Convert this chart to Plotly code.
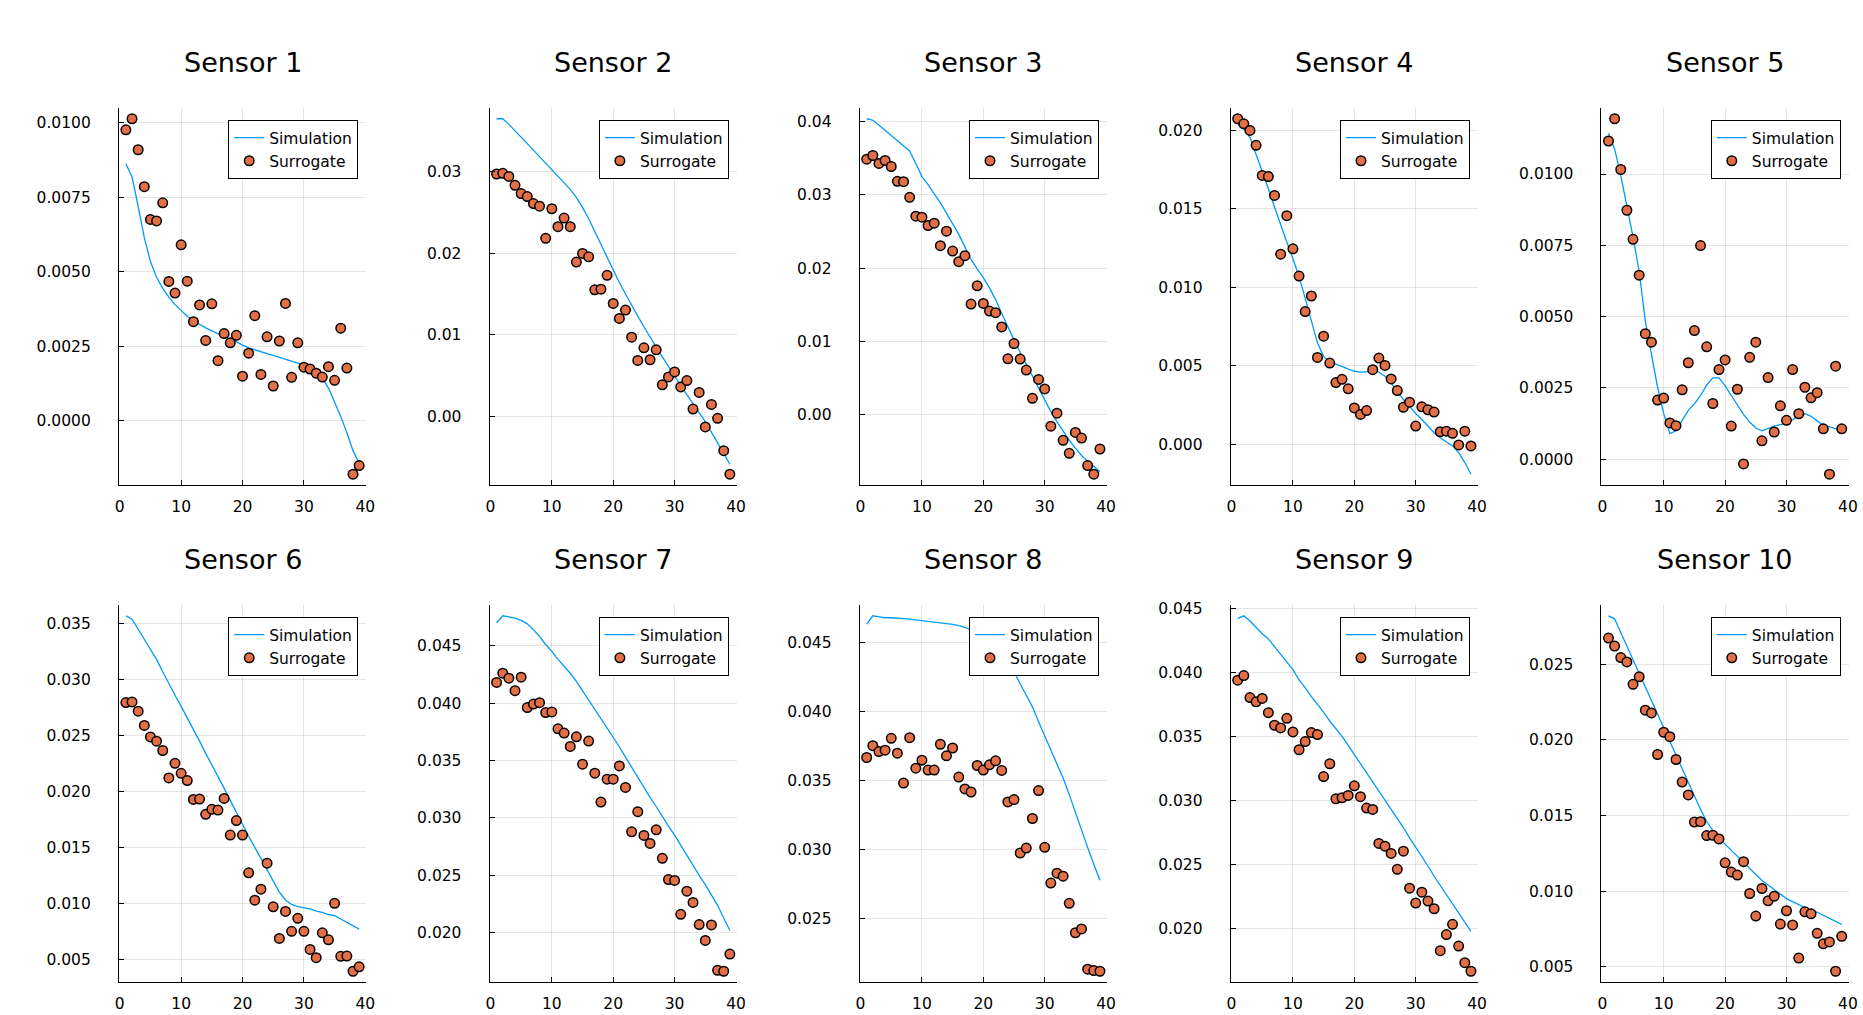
import plotly.graph_objects as go

# ---------------- data ----------------
x_steps = list(range(1, 40))
sensor_names = [f"Sensor {i}" for i in range(1, 11)]

sim_1 = [0.00863, 0.00819, 0.00720, 0.00615, 0.00535, 0.00482, 0.00445, 0.00415, 0.00390, 0.00369,
         0.00351, 0.00336, 0.00323, 0.00312, 0.00302, 0.00292, 0.00283, 0.00274, 0.00266, 0.00254,
         0.00245, 0.00238, 0.00232, 0.00226, 0.00220, 0.00214, 0.00208, 0.00201, 0.00194, 0.00186,
         0.00176, 0.00163, 0.00143, 0.00110, 0.00065, 0.00015, -0.00040, -0.00100, -0.00142]
sur_1 = [0.00977, 0.01014, 0.00910, 0.00786, 0.00676, 0.00671, 0.00732, 0.00468, 0.00429, 0.00591,
         0.00469, 0.00333, 0.00389, 0.00270, 0.00393, 0.00202, 0.00293, 0.00262, 0.00287, 0.00150,
         0.00227, 0.00353, 0.00156, 0.00282, 0.00117, 0.00268, 0.00394, 0.00146, 0.00262, 0.00180,
         0.00174, 0.00160, 0.00147, 0.00182, 0.00136, 0.00311, 0.00177, -0.00179, -0.00150]

sim_2 = [0.03644, 0.03644, 0.03575, 0.0350, 0.0342, 0.0334, 0.0326, 0.0318, 0.0310, 0.0303,
         0.0295, 0.0287, 0.0278, 0.0268, 0.0256, 0.0242, 0.0226, 0.0210, 0.0194, 0.0179,
         0.0164, 0.0150, 0.0136, 0.0123, 0.0110, 0.0097, 0.0085, 0.0073, 0.0061, 0.0049,
         0.0038, 0.0027, 0.0016, 0.0005, -0.0006, -0.0019, -0.0032, -0.0045, -0.0058]
sur_2 = [0.02968, 0.02976, 0.02939, 0.02830, 0.02729, 0.02692, 0.02607, 0.02575, 0.02182, 0.02543,
         0.02324, 0.02429, 0.02324, 0.01891, 0.01996, 0.01955, 0.01551, 0.01559, 0.01729, 0.01385,
         0.01202, 0.01304, 0.00972, 0.00688, 0.00842, 0.00696, 0.00818, 0.00389, 0.00486, 0.00547,
         0.00364, 0.00441, 0.00093, 0.00296, -0.00126, 0.00150, -0.00020, -0.00417, -0.00704]

sim_3 = [0.0404, 0.0402, 0.0395, 0.0388, 0.0381, 0.0375, 0.0368, 0.0360, 0.0343, 0.0325,
         0.0314, 0.0302, 0.0289, 0.0275, 0.0261, 0.0246, 0.0229, 0.0212, 0.0199, 0.0187,
         0.0173, 0.0157, 0.0138, 0.0119, 0.0102, 0.0085, 0.0069, 0.0053, 0.0036, 0.0019,
         0.0004, -0.0010, -0.0023, -0.0035, -0.0046, -0.0056, -0.0064, -0.0071, -0.0078]
sur_3 = [0.03488, 0.03538, 0.03429, 0.03470, 0.03388, 0.03185, 0.03180, 0.02967, 0.02709, 0.02695,
         0.02582, 0.02614, 0.02306, 0.02505, 0.02233, 0.02088, 0.02170, 0.01508, 0.01758, 0.01518,
         0.01413, 0.01391, 0.01196, 0.00761, 0.00969, 0.00757, 0.00607, 0.00222, 0.00480, 0.00349,
         -0.00159, 0.00018, -0.00353, -0.00530, -0.00245, -0.00322, -0.00698, -0.00815, -0.00471]

sim_4 = [0.02038, 0.02006, 0.01954, 0.01848, 0.01742, 0.01626, 0.01510, 0.01394, 0.01288, 0.01183,
         0.01067, 0.00929, 0.00781, 0.00644, 0.00560, 0.00522, 0.00511, 0.00496, 0.00481, 0.00465,
         0.00460, 0.00462, 0.00473, 0.00460, 0.00433, 0.00390, 0.00338, 0.00285, 0.00243, 0.00196,
         0.00158, 0.00116, 0.00074, 0.00042, 0.00017, -0.00010, -0.00053, -0.00116, -0.00190]
sur_4 = [0.02072, 0.02040, 0.01998, 0.01903, 0.01711, 0.01704, 0.01584, 0.01210, 0.01455, 0.01244,
         0.01071, 0.00845, 0.00944, 0.00553, 0.00688, 0.00517, 0.00393, 0.00414, 0.00353, 0.00232,
         0.00190, 0.00215, 0.00475, 0.00549, 0.00502, 0.00416, 0.00342, 0.00236, 0.00268, 0.00116,
         0.00239, 0.00220, 0.00205, 0.00080, 0.00084, 0.00070, -0.00004, 0.00084, -0.00010]

sim_5 = [0.01143, 0.01088, 0.00995, 0.00891, 0.00780, 0.00659, 0.00484, 0.00368, 0.00252, 0.00159,
         0.00089, 0.00099, 0.00136, 0.00171, 0.00194, 0.00223, 0.00260, 0.00285, 0.00285, 0.00258,
         0.00223, 0.00188, 0.00157, 0.00130, 0.00109, 0.00099, 0.00107, 0.00116, 0.00121, 0.00124,
         0.00138, 0.00153, 0.00159, 0.00150, 0.00134, 0.00119, 0.00113, 0.00107, 0.00101]
sur_5 = [0.01116, 0.01194, 0.01016, 0.00873, 0.00771, 0.00645, 0.00440, 0.00410, 0.00207, 0.00214,
         0.00127, 0.00117, 0.00243, 0.00338, 0.00451, 0.00749, 0.00394, 0.00195, 0.00314, 0.00348,
         0.00116, 0.00245, -0.00017, 0.00357, 0.00410, 0.00064, 0.00286, 0.00095, 0.00187, 0.00136,
         0.00314, 0.00159, 0.00252, 0.00215, 0.00233, 0.00106, -0.00053, 0.00326, 0.00106]

sim_6 = [0.0357, 0.0354, 0.0345, 0.0336, 0.0327, 0.0318, 0.0307, 0.0296, 0.0286, 0.0276,
         0.0266, 0.0256, 0.0245, 0.0234, 0.0224, 0.0214, 0.0203, 0.0192, 0.0181, 0.0170,
         0.0160, 0.0150, 0.0140, 0.0130, 0.0120, 0.0110, 0.0103, 0.0099, 0.0097, 0.0096,
         0.0095, 0.0093, 0.0092, 0.0090, 0.0089, 0.0086, 0.0083, 0.0080, 0.0077]
sur_6 = [0.02794, 0.02800, 0.02717, 0.02590, 0.02487, 0.02449, 0.02366, 0.02121, 0.02251, 0.02162,
         0.02097, 0.01929, 0.01932, 0.01796, 0.01840, 0.01834, 0.01938, 0.01610, 0.01740, 0.01610,
         0.01273, 0.01028, 0.01126, 0.01359, 0.00969, 0.00686, 0.00928, 0.00750, 0.00866, 0.00750,
         0.00588, 0.00514, 0.00736, 0.00674, 0.01000, 0.00526, 0.00529, 0.00393, 0.00432]

sim_7 = [0.0470, 0.0476, 0.0475, 0.0474, 0.0472, 0.0469, 0.0464, 0.0458, 0.0451, 0.0445,
         0.0438, 0.0432, 0.0426, 0.0419, 0.0411, 0.0403, 0.0395, 0.0387, 0.0379, 0.0370,
         0.0362, 0.0353, 0.0344, 0.0335, 0.0327, 0.0318, 0.0310, 0.0301, 0.0293, 0.0285,
         0.0276, 0.0267, 0.0258, 0.0250, 0.0242, 0.0233, 0.0224, 0.0213, 0.0202]
sur_7 = [0.04180, 0.04261, 0.04217, 0.04108, 0.04226, 0.03961, 0.03992, 0.04004, 0.03918, 0.03923,
         0.03776, 0.03739, 0.03623, 0.03707, 0.03468, 0.03670, 0.03390, 0.03139, 0.03338, 0.03338,
         0.03453, 0.03266, 0.02880, 0.03055, 0.02848, 0.02779, 0.02897, 0.02649, 0.02464, 0.02456,
         0.02161, 0.02363, 0.02265, 0.02072, 0.01934, 0.02069, 0.01674, 0.01666, 0.01815]

sim_8 = [0.04634, 0.04694, 0.04687, 0.04680, 0.04680, 0.04678, 0.04674, 0.04670, 0.04665, 0.04660,
         0.04655, 0.04650, 0.04645, 0.04640, 0.04632, 0.04622, 0.04610, 0.04592, 0.04565, 0.04530,
         0.04520, 0.04500, 0.04450, 0.04370, 0.04290, 0.04202, 0.04118, 0.04034, 0.03926, 0.03830,
         0.03722, 0.03619, 0.03518, 0.03398, 0.03266, 0.03134, 0.03014, 0.02894, 0.02778]
sur_8 = [0.03667, 0.03753, 0.03710, 0.03720, 0.03806, 0.03698, 0.03482, 0.03811, 0.03590, 0.03648,
         0.03576, 0.03576, 0.03763, 0.03679, 0.03736, 0.03525, 0.03439, 0.03417, 0.03609, 0.03576,
         0.03614, 0.03643, 0.03573, 0.03345, 0.03362, 0.02975, 0.03011, 0.03225, 0.03427, 0.03016,
         0.02757, 0.02829, 0.02807, 0.02610, 0.02397, 0.02425, 0.02133, 0.02123, 0.02118]

sim_9 = [0.0442, 0.0444, 0.0440, 0.0435, 0.0430, 0.0426, 0.0420, 0.0414, 0.0408, 0.0402,
         0.0394, 0.0388, 0.0381, 0.0375, 0.0369, 0.0362, 0.0356, 0.0350, 0.0343, 0.0336,
         0.0329, 0.0322, 0.0315, 0.0308, 0.0301, 0.0294, 0.0286, 0.0279, 0.0271, 0.0264,
         0.0256, 0.0249, 0.0241, 0.0234, 0.0226, 0.0219, 0.0212, 0.0205, 0.0198]
sur_9 = [0.03938, 0.03974, 0.03803, 0.03770, 0.03796, 0.03685, 0.03587, 0.03566, 0.03641, 0.03535,
         0.03396, 0.03460, 0.03530, 0.03514, 0.03187, 0.03287, 0.03014, 0.03022, 0.03040, 0.03115,
         0.03030, 0.02942, 0.02931, 0.02666, 0.02645, 0.02588, 0.02464, 0.02606, 0.02317, 0.02201,
         0.02286, 0.02217, 0.02157, 0.01830, 0.01956, 0.02036, 0.01866, 0.01737, 0.01670]

sim_10 = [0.0282, 0.0280, 0.0271, 0.0262, 0.0253, 0.0244, 0.0235, 0.0226, 0.0217, 0.0208,
          0.0199, 0.0190, 0.0181, 0.0171, 0.0162, 0.0154, 0.0146, 0.0140, 0.0135, 0.0131,
          0.0127, 0.0123, 0.0119, 0.0115, 0.0111, 0.0107, 0.0104, 0.0101, 0.0098, 0.0095,
          0.0093, 0.0091, 0.0089, 0.0087, 0.0086, 0.0084, 0.0082, 0.0080, 0.0078]
sur_10 = [0.02673, 0.02620, 0.02544, 0.02515, 0.02367, 0.02417, 0.02196, 0.02178, 0.01903, 0.02050,
          0.02021, 0.01870, 0.01721, 0.01636, 0.01456, 0.01459, 0.01367, 0.01369, 0.01345, 0.01187,
          0.01126, 0.01106, 0.01194, 0.00984, 0.00835, 0.01017, 0.00936, 0.00966, 0.00782, 0.00870,
          0.00776, 0.00557, 0.00863, 0.00850, 0.00721, 0.00651, 0.00664, 0.00470, 0.00701]

simulation = [sim_1, sim_2, sim_3, sim_4, sim_5, sim_6, sim_7, sim_8, sim_9, sim_10]
surrogate = [sur_1, sur_2, sur_3, sur_4, sur_5, sur_6, sur_7, sur_8, sur_9, sur_10]

# y tick spacing / format per sensor
y_dtick = [0.0025, 0.01, 0.01, 0.005, 0.0025, 0.005, 0.005, 0.005, 0.005, 0.005]
y_tickformat = [".4f", ".2f", ".2f", ".3f", ".4f", ".3f", ".3f", ".3f", ".3f", ".3f"]
x_tickvals = [0, 10, 20, 30, 40]

# ---------------- layout geometry (pixels) ----------------
W, H = 1863, 1015
col_left = [115.7, 489.0, 861.7, 1235.3, 1608.7]
plot_w = 249.0
row_top = [102.7, 602.7]
row_bottom = [481.7, 981.7]
title_y = [57.0, 557.0]

FONT = "DejaVu Sans"
SIM_COLOR = "#009AFA"
SUR_COLOR = "#E36F47"

fig = go.Figure()
layout = dict(
    width=W, height=H,
    margin=dict(l=0, r=0, t=0, b=0),
    paper_bgcolor="white", plot_bgcolor="white",
    font=dict(family=FONT, size=15.5, color="black"),
    annotations=[],
)

xspan = x_steps[-1] - x_steps[0]
xr = [x_steps[0] - 0.03 * xspan, x_steps[-1] + 0.03 * xspan]

for i in range(10):
    r, c = divmod(i, 5)
    n = i + 1
    sfx = "" if n == 1 else str(n)
    leg = "legend" if n == 1 else f"legend{n}"
    L = col_left[c]
    R = L + plot_w
    T = row_top[r]
    B = row_bottom[r]

    fig.add_trace(go.Scatter(
        x=x_steps, y=simulation[i], mode="lines", name="Simulation",
        line=dict(color=SIM_COLOR, width=1.3),
        xaxis=f"x{sfx}", yaxis=f"y{sfx}", legend=leg,
    ))
    fig.add_trace(go.Scatter(
        x=x_steps, y=surrogate[i], mode="markers", name="Surrogate",
        marker=dict(color=SUR_COLOR, size=9.5, line=dict(color="black", width=1.5)),
        xaxis=f"x{sfx}", yaxis=f"y{sfx}", legend=leg,
    ))

    lo = min(min(simulation[i]), min(surrogate[i]))
    hi = max(max(simulation[i]), max(surrogate[i]))
    pad = 0.03 * (hi - lo)

    common = dict(
        showline=True, linecolor="black", linewidth=1, mirror=False,
        showgrid=True, gridcolor="rgba(0,0,0,0.1)", gridwidth=1,
        zeroline=False, ticks="inside", ticklen=5, tickwidth=1, tickcolor="black",
        tickfont=dict(family=FONT, size=15.5, color="black"),
    )
    layout[f"xaxis{sfx}"] = dict(
        domain=[L / W, R / W], anchor=f"y{sfx}", range=xr,
        tickvals=x_tickvals, ticklabelstandoff=8, **common,
    )
    layout[f"yaxis{sfx}"] = dict(
        domain=[1 - B / H, 1 - T / H], anchor=f"x{sfx}", range=[lo - pad, hi + pad],
        tick0=0, dtick=y_dtick[i], tickformat=y_tickformat[i], ticklabelstandoff=24,
        **common,
    )
    layout[leg] = dict(
        x=(R - 8) / W, y=1 - (T + 12) / H, xanchor="right", yanchor="top",
        xref="paper", yref="paper",
        bgcolor="white", bordercolor="black", borderwidth=1,
        font=dict(family=FONT, size=15.5, color="black"),
        itemwidth=30, tracegroupgap=0,
    )
    layout["annotations"].append(dict(
        text=sensor_names[i], x=(L + R) / 2 / W, y=1 - title_y[r] / H,
        xref="paper", yref="paper", xanchor="center", yanchor="middle",
        showarrow=False, font=dict(family=FONT, size=27, color="black"),
    ))

fig.update_layout(**layout)
fig.write_html(
    "out.html",
    config={"displayModeBar": False},
    post_script="document.body.style.margin='0';",
)
